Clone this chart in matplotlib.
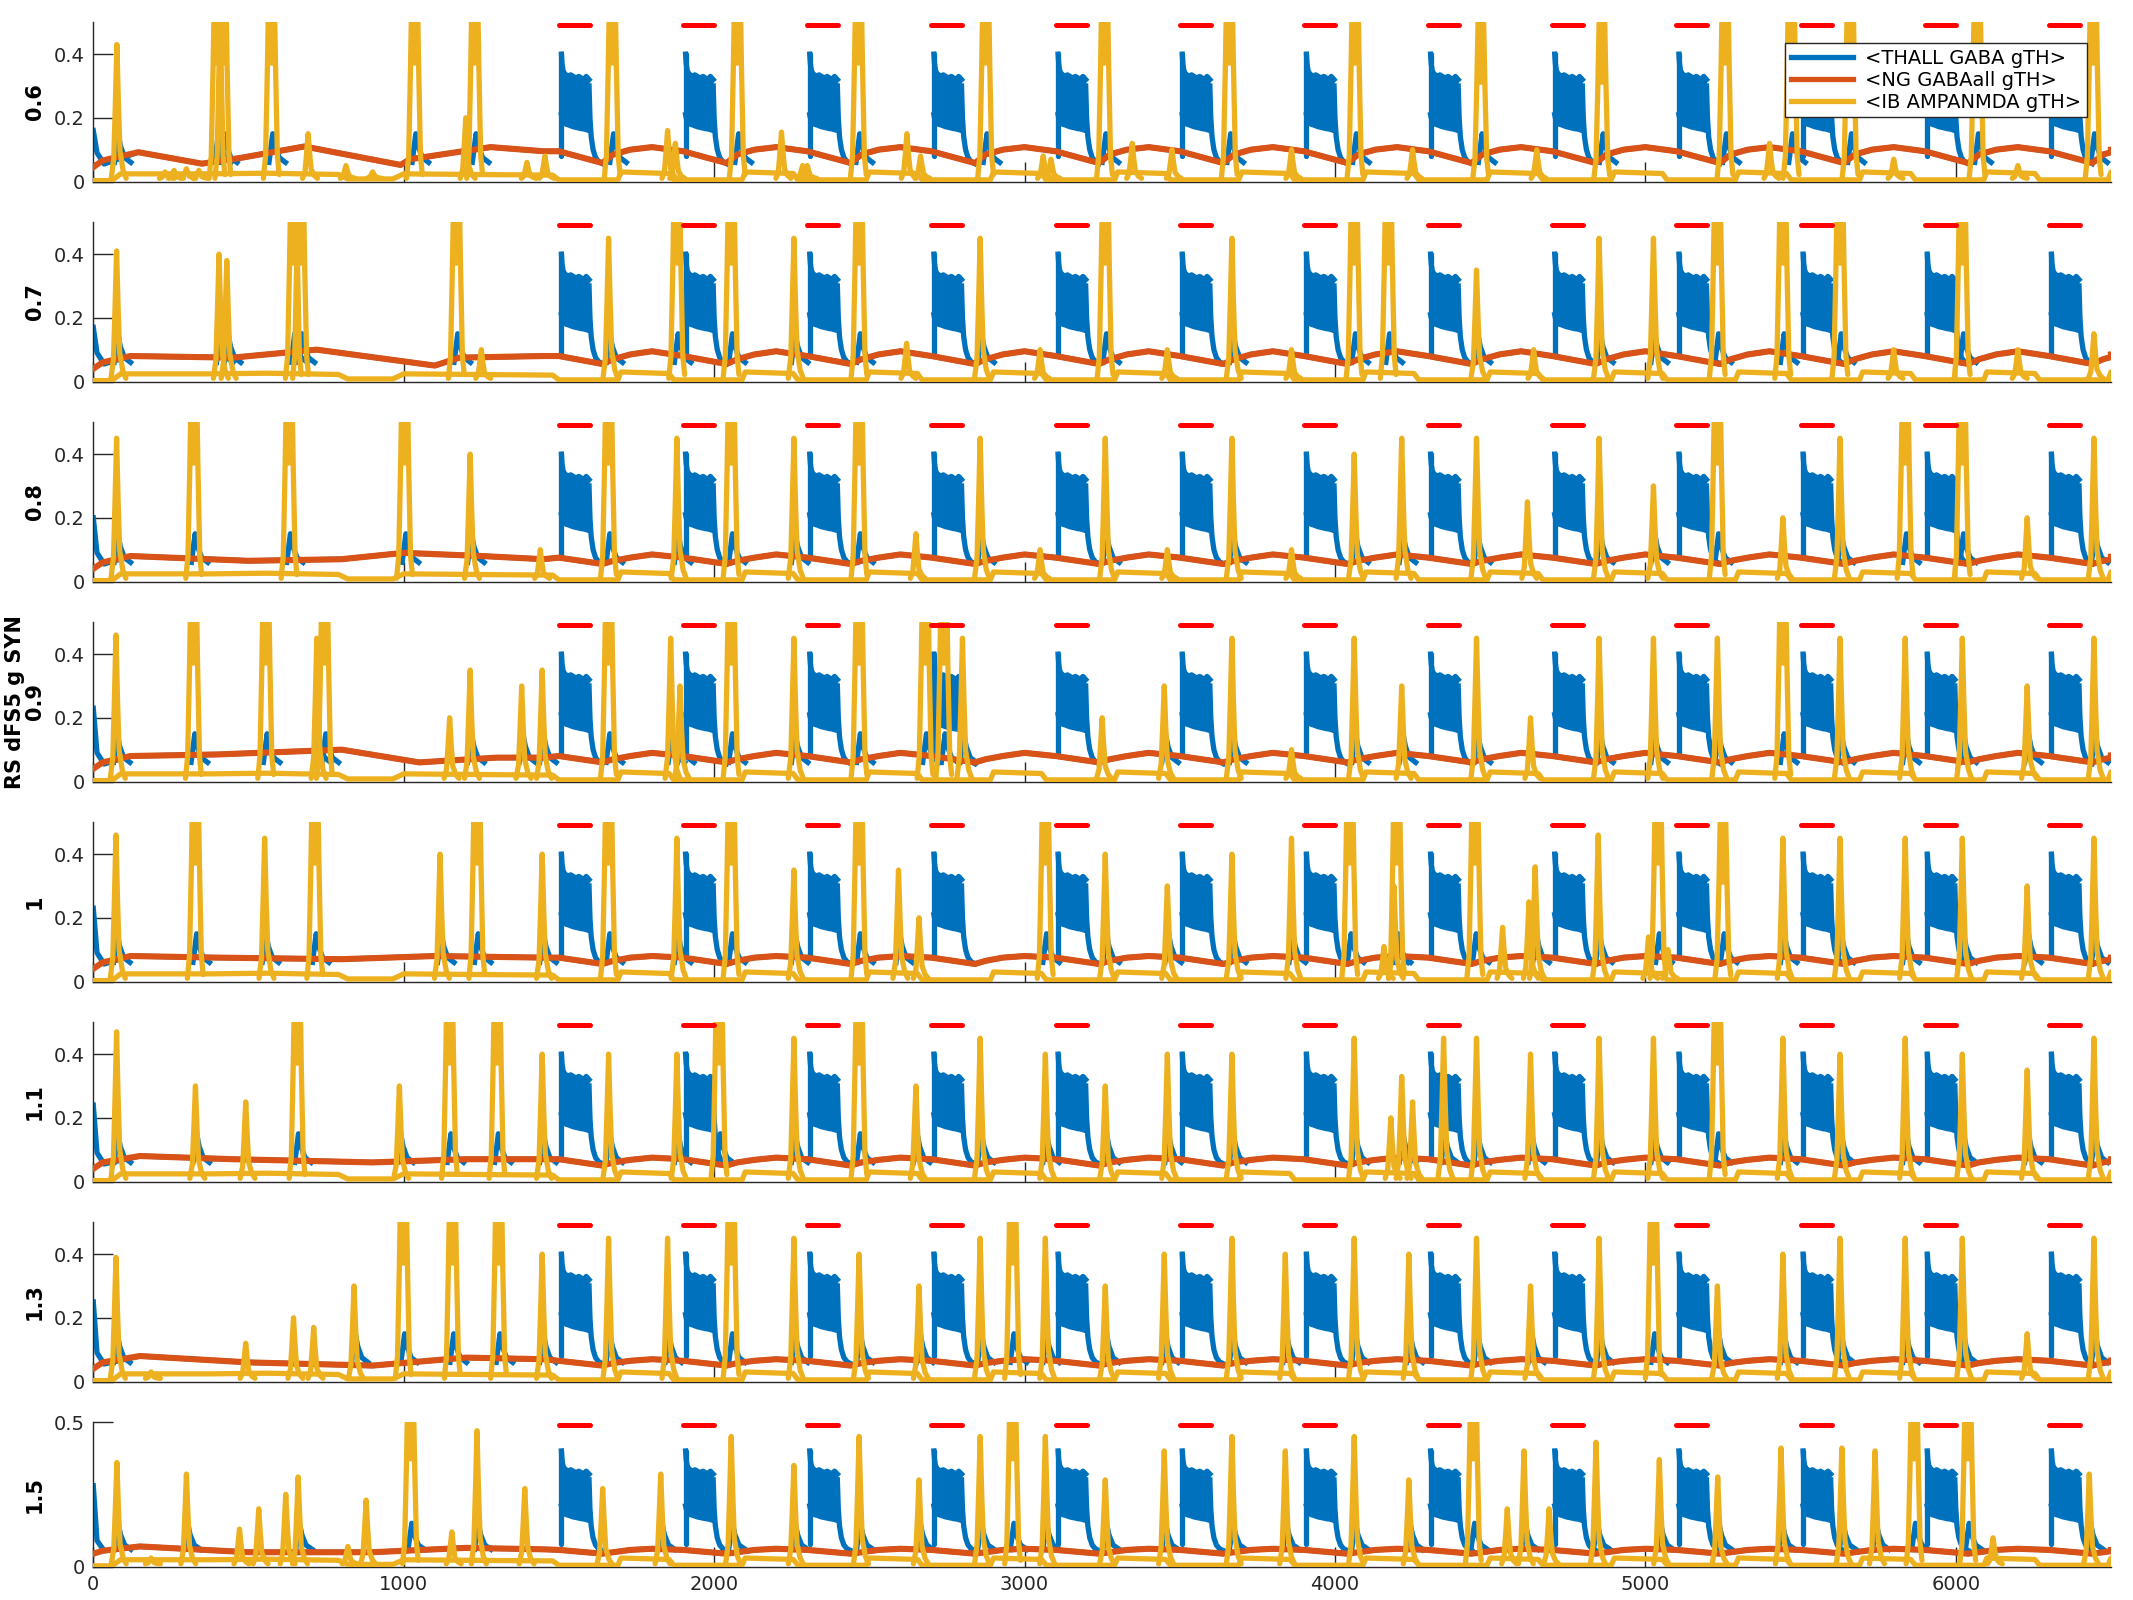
import numpy as np
import matplotlib.pyplot as plt

BLUE = '#0072BD'
ORANGE = '#D95319'
YELLOW = '#EDB120'
RED = '#FF0000'
AXC = '#262626'

# ---------------- data ----------------
panel_labels = ['0.6', '0.7', '0.8', 'RS dFS5 g SYN\n0.9', '1', '1.1', '1.3', '1.5']

pulse_on = [1500, 1900, 2300, 2700, 3100, 3500, 3900, 4300, 4700, 5100, 5500, 5900, 6300]
pulse_off = [1600, 2000, 2400, 2800, 3200, 3600, 4000, 4400, 4800, 5200, 5600, 6000, 6400]

# blue response during a stimulus (relative to onset)
pulse_dt = [8, 10, 13, 17, 23, 30, 38, 46, 55, 64, 72, 80, 88, 97]
pulse_top = [0.40, 0.37, 0.35, 0.34, 0.335, 0.33, 0.335, 0.33, 0.325, 0.33, 0.325, 0.32, 0.33, 0.32]
pulse_bot = [0.21, 0.20, 0.19, 0.185, 0.18, 0.178, 0.175, 0.172, 0.17, 0.168, 0.166, 0.165, 0.163, 0.16]
decay_dt = [97, 100, 104, 110, 118, 128, 140]
decay_val = [0.30, 0.20, 0.14, 0.10, 0.075, 0.062, 0.056]

# blue echo following a large yellow burst (relative to burst time)
echo_dt = [-8, 4, 12, 25, 45]
echo_val = [0.06, 0.15, 0.11, 0.075, 0.06]

# yellow burst profiles (fraction of peak, relative to burst time)
thin_dt = [-18, -10, -5, 0, 5, 10, 20, 30]
thin_frac = [0.0, 0.15, 0.55, 1.0, 0.55, 0.2, 0.06, 0.0]
wide_dt = [-26, -19, -13, -9, 9, 13, 19, 25]
wide_frac = [0.0, 0.12, 0.6, 1.0, 1.0, 0.6, 0.12, 0.02]

# yellow baseline: before stimuli, and over one stimulus cycle
ybase_pre_t = [0, 60, 88, 375, 560, 790, 820, 965, 1000, 1480]
ybase_pre_v = [0.003, 0.003, 0.024, 0.024, 0.026, 0.022, 0.008, 0.008, 0.024, 0.02]
ybase_cyc_dt = [0, 190, 200, 355, 370, 400]
ybase_cyc_v = [0.005, 0.005, 0.03, 0.025, 0.005, 0.005]

# orange cycle shape (relative to onset)
org_cyc_dt = [0, 140, 175, 230, 300, 400]

blue_start = [0.16, 0.17, 0.20, 0.23, 0.23, 0.24, 0.25, 0.28]

# yellow bursts per panel: time (ms), peak (values above 0.5 are clipped bursts)
y06_t = [76, 231, 260, 300, 340, 399, 418, 574, 692, 814, 900, 1035, 1200, 1229, 1397, 1455, 1672,
         1850, 1875, 2075, 2217, 2285, 2300, 2465, 2621, 2665, 2875, 3060, 3085, 3258, 3347, 3475,
         3660, 3860, 4065, 4250, 4470, 4650, 4860, 5257, 5400, 5470, 5660, 5800, 6069, 6200, 6443]
y06_h = [.43, .03, .035, .04, .035, .6, .6, .6, .15, .05, .03, .6, .2, .6, .06, .08, .6,
         .16, .12, .6, .155, .05, .05, .6, .15, .08, .6, .08, .07, .6, .12, .1,
         .6, .1, .6, .1, .5, .1, .5, .6, .12, .6, .6, .07, .6, .05, .6]
y07_t = [75, 405, 430, 645, 668, 1170, 1250, 1660, 1880, 2055, 2257, 2467, 2620, 2857, 3050, 3260, 3460,
         3668, 3860, 4062, 4172, 4456, 4640, 4851, 5026, 5232, 5443, 5627, 5800, 6021, 6200, 6445]
y07_h = [.41, .4, .38, .6, .6, .6, .1, .45, .6, .6, .45, .6, .12, .45, .1, .6, .1,
         .45, .1, .6, .6, .35, .1, .45, .45, .6, .6, .6, .1, .6, .1, .15]
y08_t = [75, 324, 631, 1003, 1214, 1440, 1660, 1880, 2055, 2257, 2467, 2650, 2857, 3050, 3260, 3460,
         3668, 3860, 4062, 4215, 4456, 4620, 4851, 5026, 5232, 5443, 5627, 5837, 6021, 6230, 6445]
y08_h = [.45, .6, .6, .6, .4, .1, .6, .45, .6, .45, .6, .15, .45, .1, .45, .1,
         .45, .1, .4, .45, .45, .25, .45, .3, .6, .2, .45, .6, .6, .2, .45]
y09_t = [73, 323, 556, 720, 745, 1148, 1214, 1380, 1446, 1660, 1860, 1890, 2055, 2257, 2467, 2680, 2740,
         2800, 3250, 3450, 3668, 3860, 4062, 4215, 4456, 4630, 4851, 5026, 5232, 5443, 5627, 5837, 6021,
         6230, 6445]
y09_h = [.46, .6, .6, .45, .6, .2, .35, .3, .35, .6, .45, .3, .6, .45, .6, .6, .6,
         .45, .2, .3, .45, .1, .45, .3, .45, .2, .45, .45, .45, .6, .45, .45, .45,
         .3, .45]
y10_t = [73, 329, 552, 714, 1117, 1236, 1446, 1660, 1880, 2055, 2257, 2467, 2594, 2660, 3067, 3260, 3460,
         3668, 3860, 4048, 4158, 4190, 4199, 4451, 4540, 4625, 4645, 4848, 5010, 5041, 5073, 5250, 5443,
         5627, 5837, 6021, 6230, 6445]
y10_h = [.46, .6, .45, .6, .4, .6, .4, .6, .45, .6, .35, .6, .35, .2, .6, .4, .3,
         .4, .45, .6, .11, .3, .6, .6, .17, .25, .36, .46, .14, .6, .1, .5, .45,
         .45, .45, .45, .3, .45]
y11_t = [75, 329, 491, 657, 986, 1148, 1301, 1446, 1660, 1880, 2016, 2257, 2467, 2650, 2857, 3067, 3260,
         3460, 3668, 4062, 4180, 4215, 4250, 4350, 4456, 4630, 4851, 5026, 5232, 5443, 5627, 5837, 6021,
         6230, 6445]
y11_h = [.47, .3, .25, .6, .3, .6, .6, .4, .4, .4, .6, .45, .6, .3, .45, .4, .3,
         .4, .4, .45, .2, .33, .25, .45, .45, .4, .45, .45, .6, .45, .4, .45, .4,
         .35, .45]
y13_t = [73, 186, 491, 645, 710, 840, 999, 1157, 1306, 1446, 1660, 1850, 2055, 2257, 2467, 2660, 2857,
         2962, 3067, 3260, 3450, 3668, 3840, 4062, 4238, 4456, 4630, 4851, 5026, 5232, 5443, 5627, 5837,
         6021, 6230, 6445]
y13_h = [.39, .03, .12, .2, .17, .3, .6, .6, .6, .4, .45, .45, .6, .45, .4, .3, .45,
         .6, .45, .3, .4, .45, .4, .45, .4, .45, .3, .45, .6, .3, .4, .45, .45,
         .45, .15, .45]
y15_t = [76, 186, 300, 471, 533, 620, 660, 820, 879, 1022, 1155, 1236, 1390, 1641, 1828, 2055, 2257,
         2467, 2660, 2857, 2962, 3067, 3260, 3450, 3668, 3840, 4062, 4238, 4446, 4555, 4609, 4690, 4841,
         5045, 5233, 5437, 5633, 5740, 5866, 6039, 6120, 6430]
y15_h = [.36, .03, .32, .13, .2, .25, .31, .07, .23, .6, .12, .47, .27, .27, .32, .45, .35,
         .45, .3, .45, .6, .45, .3, .4, .45, .4, .45, .3, .6, .2, .4, .2, .43,
         .37, .31, .41, .41, .4, .6, .6, .1, .32]

# orange (NG) trace: keypoints before the stimuli, then level over each cycle
o06_t = [0, 30, 145, 350, 480, 680, 990, 1020, 1280, 1450]
o06_v = [0.045, 0.066, 0.092, 0.056, 0.075, 0.11, 0.052, 0.07, 0.108, 0.095]
o07_t = [0, 30, 120, 450, 720, 1100, 1180, 1450]
o07_v = [0.04, 0.06, 0.08, 0.075, 0.10, 0.05, 0.075, 0.08]
o08_t = [0, 30, 120, 500, 800, 1000, 1250, 1450]
o08_v = [0.04, 0.06, 0.08, 0.065, 0.07, 0.09, 0.08, 0.07]
o09_t = [0, 30, 120, 400, 800, 1050, 1300, 1450]
o09_v = [0.04, 0.06, 0.08, 0.085, 0.10, 0.06, 0.075, 0.075]
o10_t = [0, 30, 120, 400, 800, 1100, 1450]
o10_v = [0.04, 0.06, 0.08, 0.075, 0.07, 0.08, 0.075]
o11_t = [0, 30, 150, 450, 900, 1200, 1450]
o11_v = [0.04, 0.06, 0.08, 0.07, 0.06, 0.07, 0.07]
o13_t = [0, 30, 150, 500, 900, 1200, 1450]
o13_v = [0.04, 0.06, 0.08, 0.06, 0.05, 0.075, 0.07]
o15_t = [0, 30, 150, 500, 900, 1200, 1450]
o15_v = [0.045, 0.055, 0.07, 0.05, 0.05, 0.065, 0.06]
o06_cyc = [0.095, 0.058, 0.085, 0.1, 0.108, 0.1]
o07_cyc = [0.08, 0.055, 0.07, 0.085, 0.095, 0.085]
o08_cyc = [0.075, 0.055, 0.065, 0.075, 0.085, 0.078]
o09_cyc = [0.08, 0.06, 0.07, 0.08, 0.09, 0.082]
o10_cyc = [0.075, 0.055, 0.065, 0.075, 0.08, 0.075]
o11_cyc = [0.07, 0.05, 0.06, 0.068, 0.075, 0.07]
o13_cyc = [0.065, 0.05, 0.058, 0.065, 0.07, 0.066]
o15_cyc = [0.058, 0.045, 0.05, 0.058, 0.062, 0.058]

yel_t = [y06_t, y07_t, y08_t, y09_t, y10_t, y11_t, y13_t, y15_t]
yel_h = [y06_h, y07_h, y08_h, y09_h, y10_h, y11_h, y13_h, y15_h]
org_t = [o06_t, o07_t, o08_t, o09_t, o10_t, o11_t, o13_t, o15_t]
org_v = [o06_v, o07_v, o08_v, o09_v, o10_v, o11_v, o13_v, o15_v]
org_c = [o06_cyc, o07_cyc, o08_cyc, o09_cyc, o10_cyc, o11_cyc, o13_cyc, o15_cyc]

LW = 3.8

# ---------------- figure ----------------
fig = plt.figure(figsize=(21.33, 16), dpi=100)
W, H = 2133.0, 1600.0
left = 93.3 / W
width = (2111 - 93.3) / W

axes = []
for k in range(8):
    if k < 7:
        top_px, bot_px = 22.3 + 200 * k, 181.5 + 200 * k
    else:
        top_px, bot_px = 1422.0, 1566.7
    ax = fig.add_axes([left, 1 - bot_px / H, width, (bot_px - top_px) / H])
    axes.append(ax)

for k, ax in enumerate(axes):
    # orange trace keypoints (the blue sits right underneath it between events)
    ot = list(org_t[k])
    ov = list(org_v[k])
    for on in pulse_on:
        ot += [on + d for d in org_cyc_dt[:-1]]
        ov += org_c[k][:-1]
    ot.append(6500)
    ov.append(org_c[k][-1])

    # blue baseline with initial transient
    ax.plot([0, 12, 35] + ot[2:], [blue_start[k], 0.09, 0.055] + ov[2:],
            color=BLUE, lw=LW, zorder=2, solid_joinstyle='round')
    # blue echoes under the big yellow bursts
    for t, h in zip(yel_t[k], yel_h[k]):
        if h >= 0.3:
            ax.plot(t + np.array(echo_dt), echo_val, color=BLUE, lw=LW, zorder=2,
                    solid_joinstyle='round')
    # blue stimulus responses
    for on in pulse_on:
        x = on + np.array(pulse_dt)
        ax.plot([x[0], x[0]], [0.08, pulse_top[0]], color=BLUE, lw=LW, zorder=2,
                solid_capstyle='round')
        ax.fill_between(x, pulse_bot, pulse_top, color=BLUE, lw=0, zorder=2)
        ax.plot(x, pulse_top, color=BLUE, lw=LW, zorder=2, solid_joinstyle='round')
        ax.plot(x, pulse_bot, color=BLUE, lw=LW, zorder=2, solid_joinstyle='round')
        ax.plot(on + np.array(decay_dt), decay_val, color=BLUE, lw=LW, zorder=2,
                solid_joinstyle='round')

    ax.plot(ot, ov, color=ORANGE, lw=LW + 0.6, zorder=3, solid_joinstyle='round')

    # yellow baseline
    yt = list(ybase_pre_t)
    yv = list(ybase_pre_v)
    for on in pulse_on:
        yt += [on + d for d in ybase_cyc_dt[:-1]]
        yv += ybase_cyc_v[:-1]
    yt.append(6500)
    yv.append(ybase_cyc_v[-1])
    ax.plot(yt, yv, color=YELLOW, lw=LW, zorder=4, solid_joinstyle='round')

    # yellow bursts (saturated ones get a solid upper part)
    for t, h in zip(yel_t[k], yel_h[k]):
        if h >= 0.5:
            xs = t + np.array(wide_dt)
            ys = 0.01 + (h - 0.01) * np.array(wide_frac)
            ax.fill(xs[2:6], ys[2:6], color=YELLOW, lw=0, zorder=4)
        else:
            xs = t + np.array(thin_dt)
            ys = 0.01 + (h - 0.01) * np.array(thin_frac)
        ax.plot(xs, ys, color=YELLOW, lw=LW, zorder=4, solid_joinstyle='round',
                solid_capstyle='round')

    # stimulus markers
    for a, b in zip(pulse_on, pulse_off):
        ax.plot([a, b], [0.49, 0.49], color=RED, lw=3.6, solid_capstyle='round', zorder=5)

    ax.set_xlim(0, 6500)
    ax.set_ylim(0, 0.5)
    for s in ['top', 'right']:
        ax.spines[s].set_visible(False)
    for s in ['left', 'bottom']:
        ax.spines[s].set_color(AXC)
        ax.spines[s].set_linewidth(1.0)
    ax.set_xticks([0, 1000, 2000, 3000, 4000, 5000, 6000])
    if k < 7:
        ax.set_yticks([0, 0.2, 0.4])
        ax.set_yticklabels(['0', '0.2', '0.4'])
        ax.set_xticklabels([])
    else:
        ax.set_yticks([0, 0.5])
        ax.set_yticklabels(['0', '0.5'])
    ax.tick_params(direction='in', length=14.4, width=1.0, colors=AXC, labelsize=14, pad=6)
    ax.set_ylabel(panel_labels[k], fontsize=15, fontweight='bold', color='black',
                  linespacing=1.0)
    ax.yaxis.set_label_coords(-0.024, 0.5)

# legend in the top panel
h1, = axes[0].plot([], [], color=BLUE, lw=LW)
h2, = axes[0].plot([], [], color=ORANGE, lw=LW)
h3, = axes[0].plot([], [], color=YELLOW, lw=LW)
leg = axes[0].legend([h1, h2, h3], ['<THALL GABA gTH>', '<NG GABAall gTH>', '<IB AMPANMDA gTH>'],
                     loc='upper right', bbox_to_anchor=(0.988, 0.87), borderaxespad=0,
                     fontsize=14, fancybox=False, framealpha=1, edgecolor=AXC,
                     handlelength=3.2, borderpad=0.3, labelspacing=0.15, handletextpad=0.6)
leg.get_frame().set_linewidth(1.0)
leg.set_zorder(10)

fig.savefig('out.png', dpi=100)
